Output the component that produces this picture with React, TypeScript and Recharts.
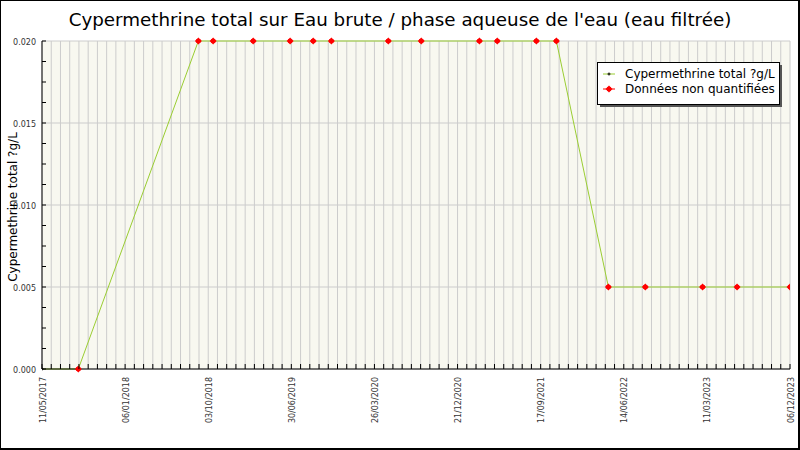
import React from 'react';
import { LineChart, Line, XAxis, YAxis, CartesianGrid } from 'recharts';

// ---- data ----
const xTickLabels = [
  '11/05/2017', '06/01/2018', '03/10/2018', '30/06/2019', '26/03/2020',
  '21/12/2020', '17/09/2021', '14/06/2022', '11/03/2023', '06/12/2023',
];
// days since the axis start
const sampleDays = [0, 118, 508, 556, 686, 806, 881, 940, 1125, 1232, 1421, 1479, 1606, 1671, 1840, 1960, 2146, 2258, 2430];
const concentrations = [
  0, 0, 0.02, 0.02, 0.02, 0.02, 0.02, 0.02, 0.02, 0.02, 0.02, 0.02, 0.02, 0.02,
  0.005, 0.005, 0.005, 0.005, 0.005,
];
const nonQuantified = [
  false, true, true, true, true, true, true, true, true, true, true, true, true, true,
  true, true, true, true, true,
];
const yTickLabels = ['0.000', '0.005', '0.010', '0.015', '0.020'];

const seriesName = 'Cypermethrine total ?g/L';
const nqName = 'Données non quantifiées';
const title = "Cypermethrine total sur Eau brute / phase aqueuse de l'eau (eau filtrée)";

const data = sampleDays.map((d, i) => ({
  x: d,
  v: concentrations[i],
  nq: nonQuantified[i] ? concentrations[i] : null,
}));

const X_MAJOR = 270;
const X_MINOR = 30;
const X_MAX = X_MAJOR * (xTickLabels.length - 1);
const xTicks: number[] = [];
for (let t = 0; t <= X_MAX; t += X_MINOR) xTicks.push(t);

const Y_MAJOR = 0.005;
const Y_MAX = Y_MAJOR * (yTickLabels.length - 1);
const yTicks: number[] = [];
for (let i = 0; i <= (yTickLabels.length - 1) * 4; i++) yTicks.push((i * Y_MAJOR) / 4);
const yGrid = yTickLabels.map((_, i) => i * Y_MAJOR);

const FONT = '"DejaVu Sans", sans-serif';
const GREEN = '#9acd32';
const RED = '#ff0000';

const XTick = (props: any) => {
  const { x, y, payload } = props;
  const v = payload.value;
  const major = Math.abs(v / X_MAJOR - Math.round(v / X_MAJOR)) < 1e-6;
  const idx = Math.round(v / X_MAJOR);
  return (
    <g>
      <line x1={x} y1={y} x2={x} y2={y - 5} stroke="#000" strokeWidth={1} />
      {major && (
        <text
          transform={`translate(${x + 3.5},${y + 8}) rotate(-90)`}
          textAnchor="end"
          fontFamily={FONT}
          fontSize={8}
          fill="#333"
        >
          {xTickLabels[idx]}
        </text>
      )}
    </g>
  );
};

const YTick = (props: any) => {
  const { x, y, payload } = props;
  const v = payload.value;
  const r = v / Y_MAJOR;
  const major = Math.abs(r - Math.round(r)) < 1e-6;
  return (
    <g>
      <line x1={x} y1={y} x2={x + 4} y2={y} stroke="#000" strokeWidth={1} />
      {major && (
        <text x={x - 6} y={y + 3.5} textAnchor="end" fontFamily={FONT} fontSize={8} fill="#333">
          {yTickLabels[Math.round(r)]}
        </text>
      )}
    </g>
  );
};

const RedMark = ({ cx, cy }: { cx: number; cy: number }) => (
  <g>
    <polygon
      points={`${cx},${cy - 3.5} ${cx + 3.5},${cy} ${cx},${cy + 3.5} ${cx - 3.5},${cy}`}
      fill={RED}
    />
    <rect x={cx - 2} y={cy - 2} width={4} height={4} fill={RED} />
  </g>
);

const BlackMark = ({ cx, cy }: { cx: number; cy: number }) => (
  <g>
    <line x1={cx - 1.5} y1={cy} x2={cx + 1.5} y2={cy} stroke="#000" strokeWidth={1} />
    <line x1={cx} y1={cy - 1.5} x2={cx} y2={cy + 1.5} stroke="#000" strokeWidth={1} />
  </g>
);

const redDot = (props: any) => {
  const { cx, cy, index, value } = props;
  if (cy == null || value == null || Number.isNaN(cy)) return <g key={`r${index}`} />;
  return (
    <g key={`r${index}`}>
      <RedMark cx={cx} cy={cy} />
    </g>
  );
};

const blackDot = (props: any) => {
  const { cx, cy, index } = props;
  if (cy == null || Number.isNaN(cy)) return <g key={`b${index}`} />;
  return (
    <g key={`b${index}`}>
      <BlackMark cx={cx} cy={cy} />
    </g>
  );
};

export default function App() {
  return (
    <div
      style={{
        position: 'absolute',
        left: 0,
        top: 0,
        width: 800,
        height: 450,
        background: '#fff',
      }}
    >
      <LineChart
        width={800}
        height={450}
        data={data}
        margin={{ top: 41, right: 10, bottom: 0, left: 0 }}
      >
        <CartesianGrid
          fill="#f8f8f0"
          stroke="#cccccc"
          strokeWidth={1}
          horizontalValues={yGrid}
          verticalValues={xTicks}
        />
        <XAxis
          dataKey="x"
          type="number"
          domain={[0, X_MAX]}
          ticks={xTicks}
          interval={0}
          height={81}
          tickSize={0}
          tickMargin={0}
          tickLine={false}
          axisLine={{ stroke: '#000', strokeWidth: 1 }}
          tick={<XTick />}
          allowDataOverflow
        />
        <YAxis
          type="number"
          domain={[0, Y_MAX]}
          ticks={yTicks}
          interval={0}
          width={42}
          tickSize={0}
          tickMargin={0}
          tickLine={false}
          axisLine={{ stroke: '#000', strokeWidth: 1 }}
          tick={<YTick />}
        />
        <Line
          dataKey="v"
          name={seriesName}
          stroke={GREEN}
          strokeWidth={1}
          dot={blackDot}
          activeDot={false}
          isAnimationActive={false}
        />
        <Line
          dataKey="nq"
          name={nqName}
          stroke="none"
          dot={redDot}
          activeDot={false}
          isAnimationActive={false}
        />
      </LineChart>
      <svg
        width={800}
        height={450}
        style={{ position: 'absolute', left: 0, top: 0, pointerEvents: 'none' }}
      >
        <rect x={0.5} y={0.5} width={798} height={448} fill="none" stroke="#000" strokeWidth={1} />
        <line x1={799} y1={0} x2={799} y2={450} stroke="#000" strokeWidth={2} />
        <line x1={0} y1={449} x2={800} y2={449} stroke="#000" strokeWidth={2} />
        <text x={400} y={26} textAnchor="middle" fontFamily={FONT} fontSize={18.3} fill="#000">
          {title}
        </text>
        <text
          transform="translate(16.5,207) rotate(-90)"
          textAnchor="middle"
          fontFamily={FONT}
          fontSize={12}
          fill="#000"
        >
          {seriesName}
        </text>
        {/* legend */}
        <rect x={600} y={65} width={182} height={42} fill="#555" />
        <rect x={597.5} y={62.5} width={182} height={42} fill="#fff" stroke="#000" strokeWidth={1} />
        <line x1={603} y1={74} x2={615} y2={74} stroke={GREEN} strokeWidth={1} />
        <BlackMark cx={609} cy={74} />
        <text x={625} y={78.3} fontFamily={FONT} fontSize={12} fill="#000">
          {seriesName}
        </text>
        <line x1={603} y1={89} x2={615} y2={89} stroke={RED} strokeWidth={1} />
        <RedMark cx={609} cy={89} />
        <text x={625} y={93.3} fontFamily={FONT} fontSize={12} fill="#000">
          {nqName}
        </text>
      </svg>
    </div>
  );
}
